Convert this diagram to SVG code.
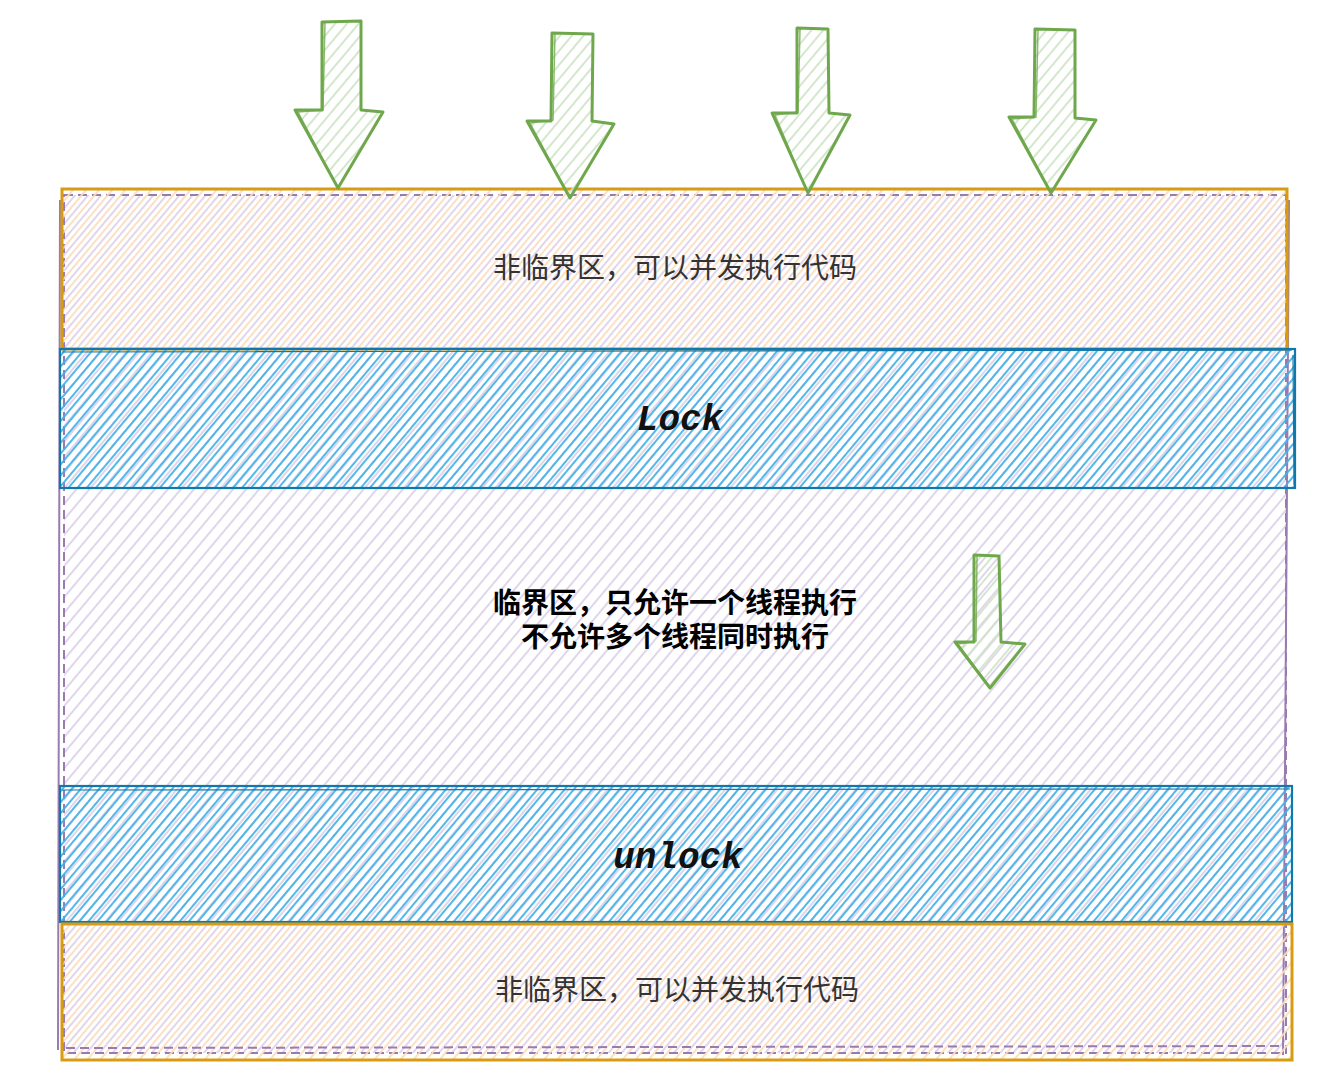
<svg xmlns="http://www.w3.org/2000/svg" width="1321" height="1067" viewBox="0 0 1321 1067">
<defs>
<pattern id="hPu" patternUnits="userSpaceOnUse" width="10" height="10" patternTransform="rotate(40)"><line x1="3" y1="0" x2="3" y2="10" stroke="#ddd2ea" stroke-width="1.8"/></pattern>
<pattern id="hOr" patternUnits="userSpaceOnUse" width="10" height="10" patternTransform="rotate(40)"><line x1="8" y1="0" x2="8" y2="10" stroke="#fddcbc" stroke-width="1.8"/></pattern>
<pattern id="hBl" patternUnits="userSpaceOnUse" width="7" height="7" patternTransform="rotate(40)"><line x1="2" y1="0" x2="2" y2="7" stroke="#3fb0e8" stroke-width="1.8"/></pattern>
<pattern id="hGr" patternUnits="userSpaceOnUse" width="9" height="9" patternTransform="rotate(40)"><line x1="2" y1="0" x2="2" y2="9" stroke="#cfe5c6" stroke-width="1.8"/></pattern>
<style>
.pu{fill:url(#hPu);stroke:#9a7bb0;stroke-width:2;stroke-dasharray:9 5}
.pu2{fill:none;stroke:#9a7bb0;stroke-width:2}
.or{fill:url(#hOr);stroke:#d89c10;stroke-width:3}
.bl{fill:url(#hBl);stroke:#1277aa;stroke-width:2.2}
.ar{fill:url(#hGr);stroke:#6fa84c;stroke-width:3;stroke-linejoin:round}
.ar2{fill:none;stroke:#6fa84c;stroke-width:1.5;opacity:.8}
.cn{font-family:"Noto Sans CJK SC","Noto Sans",sans-serif;font-size:28px;fill:#333;text-anchor:middle}
.cb{font-family:"Noto Sans CJK SC","Noto Sans",sans-serif;font-size:28px;font-weight:bold;fill:#000;text-anchor:middle}
.mo{font-family:"Liberation Mono","Courier New",monospace;font-size:36px;font-weight:bold;font-style:italic;fill:#111;text-anchor:middle}
</style>
</defs>
<rect width="1321" height="1067" fill="#fff"/>
<g id="critical">
<rect class="pu" x="64" y="195" width="1222" height="858"/>
<path class="pu2" d="M60 200 L58 1050 M1289 200 L1283 1055"/>
<text class="cb" x="675" y="613"><tspan x="675" y="613">临界区，只允许一个线程执行</tspan><tspan x="675" y="647">不允许多个线程同时执行</tspan></text>
</g>
<g id="noncritical-top">
<rect class="or" x="62" y="189" width="1225" height="160"/>
<text class="cn" x="675" y="278">非临界区，可以并发执行代码</text>
</g>
<g id="lock">
<rect class="bl" x="60" y="349" width="1235" height="139"/>
<path d="M62 352 L1292 350 M1293 355 L1294 485" fill="none" stroke="#1277aa" stroke-width="1.2"/>
<text class="mo" x="680" y="430">Lock</text>
</g>
<g id="unlock">
<rect class="bl" x="60" y="786" width="1232" height="136"/>
<path d="M62 790 L1290 789" fill="none" stroke="#1277aa" stroke-width="1.2"/>
<text class="mo" x="678" y="868">unlock</text>
</g>
<g id="noncritical-bottom">
<rect class="or" x="62" y="924" width="1230" height="136"/>
<path d="M66 1048 L1284 1046" fill="none" stroke="#9a7bb0" stroke-width="2" stroke-dasharray="9 5"/>
<text class="cn" x="677" y="1000">非临界区，可以并发执行代码</text>
</g>
<g id="arrows">
<g id="arrow1"><polygon class="ar" points="322,22 361,21 361,110 383,112 338,188 295,110 322,110"/><polyline class="ar2" points="325,22 323,110 298,112 337,186"/></g>
<g id="arrow2"><polygon class="ar" points="552,33 593,34 592,121 614,124 570,198 527,121 551,121"/><polyline class="ar2" points="555,34 553,120 530,123 569,196"/></g>
<g id="arrow3"><polygon class="ar" points="797,28 828,29 829,113 850,115 808,193 772,113 797,113"/><polyline class="ar2" points="800,29 798,112 775,115 807,191"/></g>
<g id="arrow4"><polygon class="ar" points="1035,29 1075,30 1075,118 1096,120 1051,193 1009,117 1034,117"/><polyline class="ar2" points="1038,30 1036,117 1012,119 1050,191"/></g>
<g id="arrow5"><polygon class="ar" points="974,555 999,556 1001,642 1025,644 990,688 955,642 974,642"/><polyline class="ar2" points="977,556 976,641 958,644 989,686"/></g>
</g>
</svg>
